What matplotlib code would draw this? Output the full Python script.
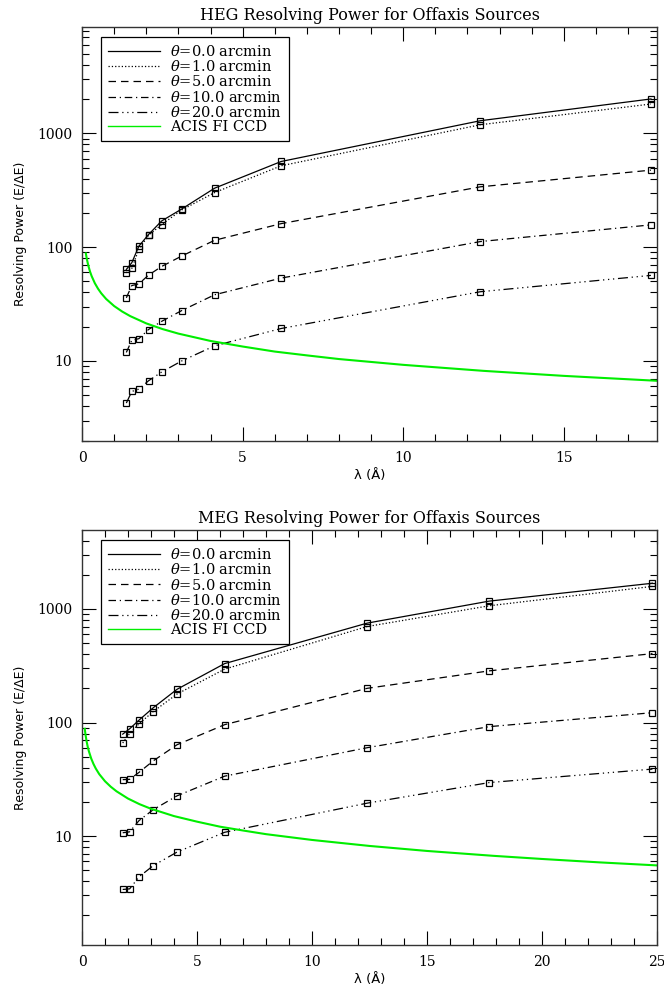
import numpy as np
import matplotlib
matplotlib.use('Agg')
import matplotlib.pyplot as plt
from matplotlib.lines import Line2D
from matplotlib.ticker import MultipleLocator, LogLocator, FuncFormatter, NullFormatter

plt.rcParams['font.family'] = 'DejaVu Serif'
plt.rcParams['mathtext.fontset'] = 'dejavuserif'

labels = [r'$\theta$=0.0 arcmin', r'$\theta$=1.0 arcmin', r'$\theta$=5.0 arcmin',
          r'$\theta$=10.0 arcmin', r'$\theta$=20.0 arcmin']

# HEG, wavelengths in Angstrom
heg_lam = [1.38, 1.55, 1.77, 2.07, 2.48, 3.10, 4.13, 6.20, 12.40, 17.71]
heg_0 = [63.7, 73, 102, 129, 170, 216, 330, 566, 1291, 2005]
heg_1 = [59.6, 65, 96, 127, 158, 212, 302, 519, 1190, 1810]
heg_5 = [35.9, 46, 47.6, 56.8, 67.7, 83.5, 115, 161, 339, 475]
heg_10 = [11.9, 15.2, 15.7, 18.9, 22.3, 27.7, 38.2, 53.5, 112, 157]
heg_20 = [4.27, 5.40, 5.66, 6.70, 8.00, 10.0, 13.6, 19.3, 40.6, 56.5]

# MEG
meg_lam = [1.77, 2.07, 2.48, 3.10, 4.13, 6.20, 12.40, 17.71, 24.80]
meg_0 = [79, 88, 105, 135, 196, 330, 750, 1172, 1683]
meg_1 = [66, 80, 97.5, 125, 178, 295, 700, 1066, 1579]
meg_5 = [31.4, 31.6, 36.4, 46, 63.7, 95.7, 200, 285, 404]
meg_10 = [10.7, 10.9, 13.7, 17.1, 22.6, 33.7, 60, 92, 122]
meg_20 = [3.39, 3.43, 4.38, 5.50, 7.23, 10.8, 19.5, 29.6, 38.9]

# ACIS FI CCD resolving power
acis_lam = [0.12, 0.15, 0.2, 0.25, 0.3, 0.4, 0.5, 0.6, 0.75, 1.0, 1.25, 1.5, 2.0, 2.5,
            3.0, 4.0, 5.0, 6.0, 7.0, 8.0, 10.0, 12.5, 15.0, 17.9, 20.0, 22.5, 25.0]
acis_r = [88.1, 78.8, 68.2, 61.0, 55.7, 48.2, 43.1, 39.3, 35.1, 30.4, 27.2, 24.8, 21.4, 19.1,
          17.4, 15.0, 13.4, 12.1, 11.2, 10.4, 9.25, 8.19, 7.40, 6.70, 6.29, 5.87, 5.52]

styles = ['-', ':', (0, (6, 4)), (0, (6, 3, 1, 3)), (0, (8, 3, 1, 3, 1, 3, 1, 3))]
green = '#00ee00'


def panel(ax, lam, curves, title, xmax, ylim):
    for y, ls in zip(curves, styles):
        ax.plot(lam, y, color='black', ls=ls, lw=0.9, marker='s', ms=5,
                mfc='none', mec='black', mew=0.9)
    n = sum(1 for v in acis_lam if v <= xmax + 0.01)
    ax.plot(acis_lam[:n], acis_r[:n], color=green, lw=1.5)

    ax.set_yscale('log')
    ax.set_xlim(0, xmax)
    ax.set_ylim(*ylim)
    ax.xaxis.set_major_locator(MultipleLocator(5))
    ax.xaxis.set_minor_locator(MultipleLocator(1))
    ax.yaxis.set_major_locator(LogLocator(base=10))
    ax.yaxis.set_minor_locator(LogLocator(base=10, subs=np.arange(2, 10)))
    ax.yaxis.set_major_formatter(FuncFormatter(lambda v, p: '%d' % v))
    ax.yaxis.set_minor_formatter(NullFormatter())
    ax.tick_params(which='both', direction='in', top=True, right=True, labelsize=10, width=0.8)
    ax.tick_params(which='major', length=10, pad=7)
    ax.tick_params(which='minor', length=5)
    for s in ax.spines.values():
        s.set_linewidth(1.0)
        s.set_color('#333333')

    ax.set_title(title, fontsize=11.5, pad=5)
    ax.set_xlabel(u'\u03bb (\u00c5)', fontsize=9.5, family='DejaVu Sans', labelpad=3)
    ax.set_ylabel(u'Resolving Power (E/\u0394E)', fontsize=9, family='DejaVu Sans', labelpad=7)

    # legend shows only the line styles, no symbols
    handles = [Line2D([], [], color='black', ls=ls, lw=0.9) for ls in styles]
    handles.append(Line2D([], [], color=green, lw=1.0))
    leg = ax.legend(handles, labels + ['ACIS FI CCD'], loc='upper left',
                    bbox_to_anchor=(0.033, 0.975), borderaxespad=0,
                    fontsize=10.5, handlelength=3.6, handletextpad=0.7, labelspacing=0.02,
                    fancybox=False, framealpha=1, edgecolor='black', borderpad=0.45)
    leg.get_frame().set_linewidth(0.9)


fig = plt.figure(figsize=(6.64, 9.92), dpi=100)
ax1 = fig.add_axes([0.1235, 0.5554, 0.866, 0.4174])
ax2 = fig.add_axes([0.1235, 0.0474, 0.866, 0.4183])

panel(ax1, heg_lam, [heg_0, heg_1, heg_5, heg_10, heg_20],
      'HEG Resolving Power for Offaxis Sources', 17.9, (1.98, 8600))
panel(ax2, meg_lam, [meg_0, meg_1, meg_5, meg_10, meg_20],
      'MEG Resolving Power for Offaxis Sources', 25.0, (1.1, 4950))

fig.savefig('out.png', dpi=100)
